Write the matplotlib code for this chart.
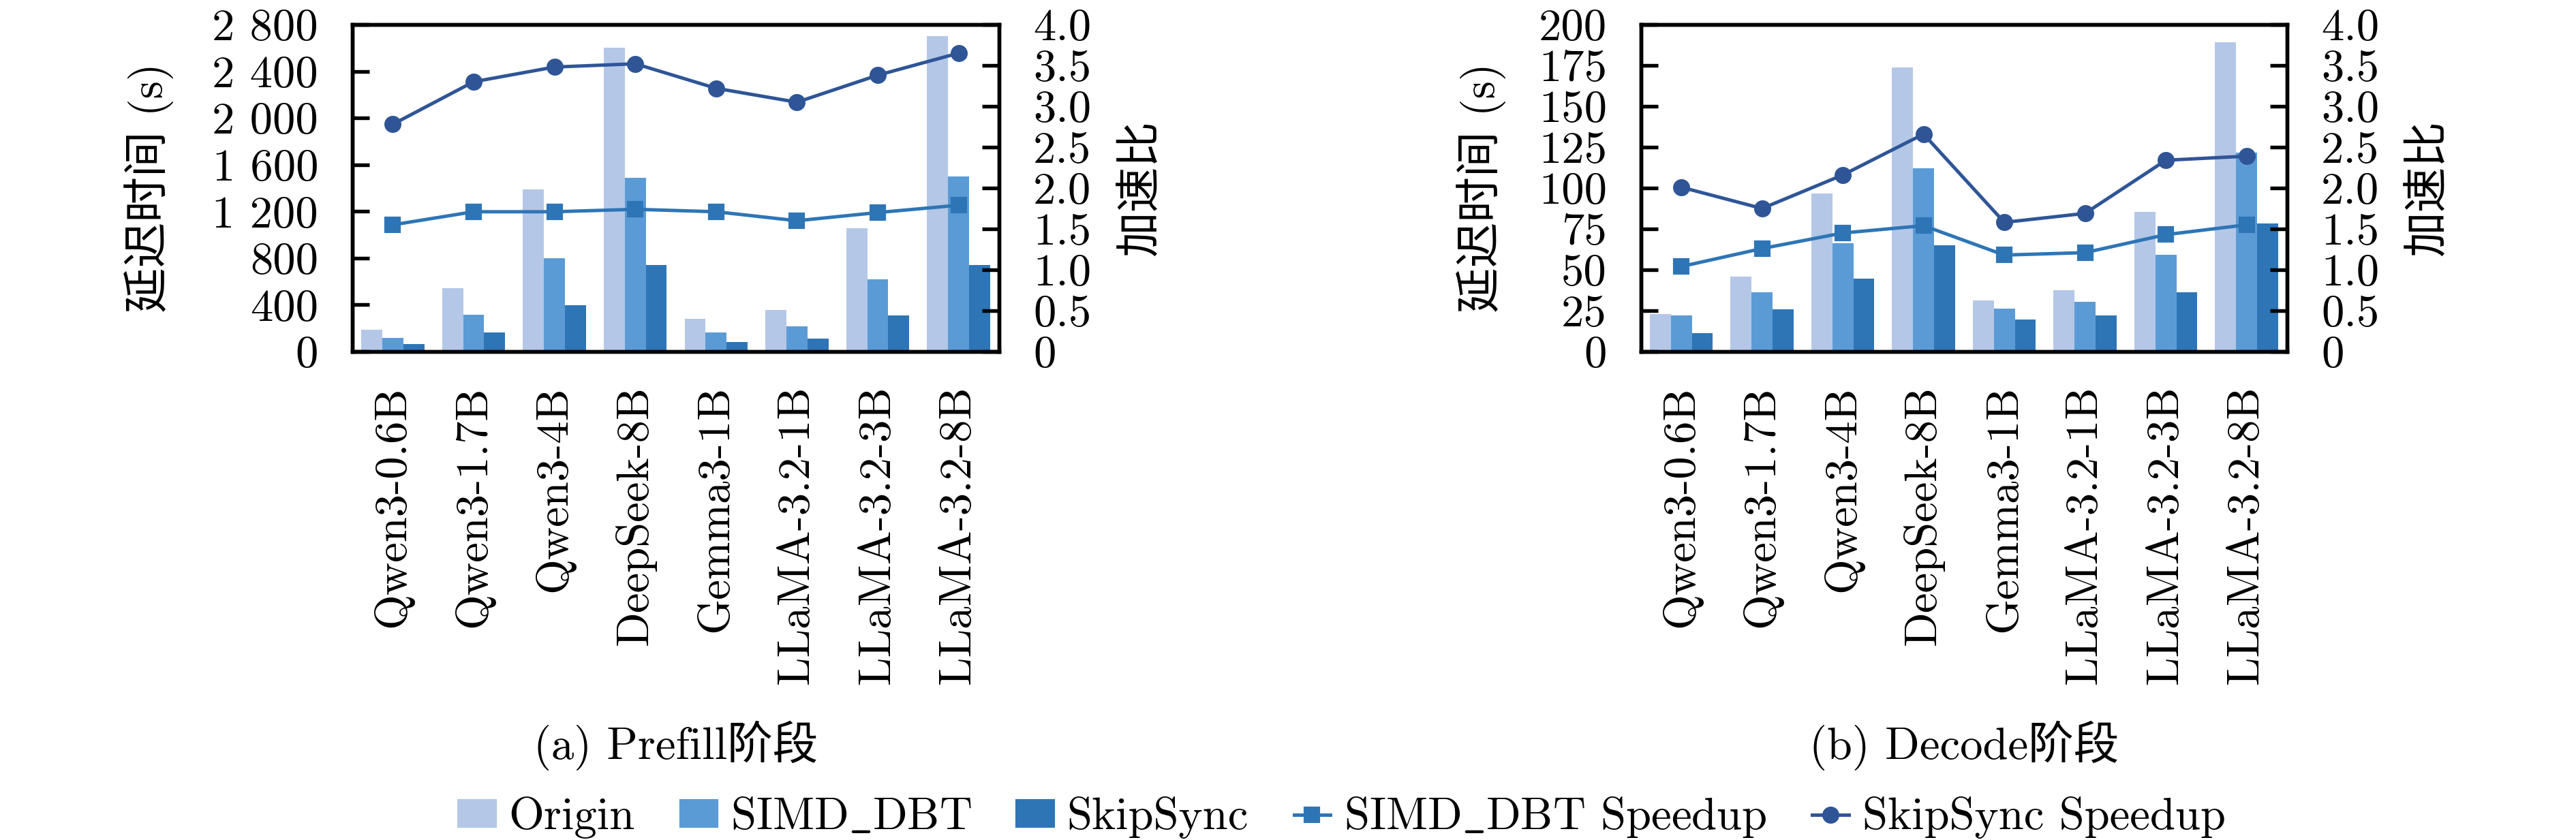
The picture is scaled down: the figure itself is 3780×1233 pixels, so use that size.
"""
Prefill / Decode latency and speedup, two panels side by side.
Bars = latency (left axis), lines = speedup (right axis).
"""

import numpy as np
import matplotlib
matplotlib.use("Agg")
import matplotlib.pyplot as plt
from matplotlib.patches import Patch
from matplotlib.lines import Line2D

# ─── Data ────────────────────────────────────────────────────────────────────
MODELS = ["Qwen3-0.6B", "Qwen3-1.7B", "Qwen3-4B", "DeepSeek-8B",
          "Gemma3-1B", "LLaMA-3.2-1B", "LLaMA-3.2-3B", "LLaMA-3.2-8B"]

# Prefill latency (s)
prefill_origin = [184, 543, 1389, 2601, 278, 357, 1053, 2700]
prefill_simd = [115, 313, 800, 1490, 161, 217, 616, 1498]
prefill_skip = [63, 161, 397, 738, 84, 113, 307, 738]
# Prefill speedup
prefill_simd_speedup = [1.55, 1.71, 1.71, 1.74, 1.71, 1.60, 1.70, 1.79]
prefill_skip_speedup = [2.78, 3.30, 3.48, 3.52, 3.22, 3.05, 3.38, 3.65]

# Decode latency (s)
decode_origin = [23.1, 45.8, 96.6, 173.9, 31.3, 37.6, 85.4, 189.3]
decode_simd = [22.1, 36.3, 66.4, 112.2, 26.3, 30.6, 59.3, 121.6]
decode_skip = [11.2, 25.8, 44.5, 64.9, 19.7, 21.9, 36.3, 78.5]
# Decode speedup
decode_simd_speedup = [1.04, 1.26, 1.45, 1.54, 1.18, 1.21, 1.43, 1.55]
decode_skip_speedup = [2.01, 1.75, 2.16, 2.66, 1.58, 1.69, 2.34, 2.39]

PREFILL_YTICKS = [0, 400, 800, 1200, 1600, 2000, 2400, 2800]
PREFILL_YLABELS = ["0", "400", "800", "1 200", "1 600", "2 000", "2 400", "2 800"]
DECODE_YTICKS = [0, 25, 50, 75, 100, 125, 150, 175, 200]
SPEED_YTICKS = [0, 0.5, 1.0, 1.5, 2.0, 2.5, 3.0, 3.5, 4.0]
SPEED_YLABELS = ["0", "0.5", "1.0", "1.5", "2.0", "2.5", "3.0", "3.5", "4.0"]

# ─── Style ───────────────────────────────────────────────────────────────────
C_ORIGIN = "#B4C7E7"
C_SIMD = "#5B9BD5"
C_SKIP = "#2E75B6"
C_SIMD_LINE = "#2E75B6"
C_SKIP_LINE = "#2F5597"

plt.rcParams["font.family"] = ["cmr10", "Noto Sans CJK SC", "DejaVu Serif"]
plt.rcParams["mathtext.fontset"] = "cm"
plt.rcParams["axes.formatter.use_mathtext"] = True
plt.rcParams["font.size"] = 16

FS = 16
BAR_W = 0.26
LW = 1.2


def draw_panel(ax, origin, simd, skip, simd_sp, skip_sp, ymax, yticks, ylabels,
               lab_left, lab_right):
    x = np.arange(len(MODELS))
    ax.bar(x - BAR_W, origin, BAR_W, color=C_ORIGIN, linewidth=0)
    ax.bar(x, simd, BAR_W, color=C_SIMD, linewidth=0)
    ax.bar(x + BAR_W, skip, BAR_W, color=C_SKIP, linewidth=0)

    ax.set_xlim(-0.5, len(MODELS) - 0.5)
    ax.set_ylim(0, ymax)
    ax.set_yticks(yticks)
    ax.set_yticklabels(ylabels, fontsize=FS)
    ax.set_xticks(x)
    ax.set_xticklabels(MODELS, rotation=90, fontsize=FS)
    ax.tick_params(axis="x", length=0, pad=12)
    ax.tick_params(axis="y", direction="in", length=6, width=1.3, pad=12)
    ax.set_ylabel("延迟时间 (s)", fontsize=FS)
    ax.yaxis.set_label_coords(lab_left, 0.5)
    for sp in ax.spines.values():
        sp.set_linewidth(1.3)

    ax2 = ax.twinx()
    ax2.plot(x, simd_sp, color=C_SIMD_LINE, marker="s", markersize=5,
             linewidth=LW)
    ax2.plot(x, skip_sp, color=C_SKIP_LINE, marker="o", markersize=5,
             linewidth=LW)
    ax2.set_ylim(0, 4.0)
    ax2.set_yticks(SPEED_YTICKS)
    ax2.set_yticklabels(SPEED_YLABELS, fontsize=FS)
    ax2.tick_params(axis="y", direction="in", length=6, width=1.3, pad=12)
    ax2.set_ylabel("加速比", fontsize=FS)
    ax2.yaxis.set_label_coords(lab_right, 0.5)
    for sp in ax2.spines.values():
        sp.set_linewidth(1.3)
    return ax2


def main():
    fig = plt.figure(figsize=(12.6, 4.11), dpi=300)
    ax_a = fig.add_axes([0.1368, 0.5815, 0.2510, 0.3893])
    ax_b = fig.add_axes([0.6370, 0.5815, 0.2508, 0.3893])

    draw_panel(ax_a, prefill_origin, prefill_simd, prefill_skip,
               prefill_simd_speedup, prefill_skip_speedup,
               2800, PREFILL_YTICKS, PREFILL_YLABELS, -0.276, 1.189)
    draw_panel(ax_b, decode_origin, decode_simd, decode_skip,
               decode_simd_speedup, decode_skip_speedup,
               200, DECODE_YTICKS, [str(t) for t in DECODE_YTICKS],
               -0.209, 1.188)

    # Sub-captions
    fig.text(0.2623, 0.1127, "(a) Prefill阶段", fontsize=FS,
             ha="center", va="center")
    fig.text(0.7624, 0.1127, "(b) Decode阶段", fontsize=FS,
             ha="center", va="center")

    handles = [
        Patch(color=C_ORIGIN, label="Origin"),
        Patch(color=C_SIMD, label=r"SIMD$\_$DBT"),
        Patch(color=C_SKIP, label="SkipSync"),
        Line2D([], [], color=C_SIMD_LINE, marker="s", markersize=5,
               linewidth=LW, label=r"SIMD$\_$DBT Speedup"),
        Line2D([], [], color=C_SKIP_LINE, marker="o", markersize=5,
               linewidth=LW, label="SkipSync Speedup"),
    ]
    fig.legend(handles=handles, loc="center", bbox_to_anchor=(0.521, 0.027),
               ncol=5, frameon=False, fontsize=FS, handlelength=0.8,
               handleheight=0.5, handletextpad=0.3, columnspacing=1.0)

    fig.savefig("out.png", dpi=300)
    plt.close(fig)


if __name__ == "__main__":
    main()
